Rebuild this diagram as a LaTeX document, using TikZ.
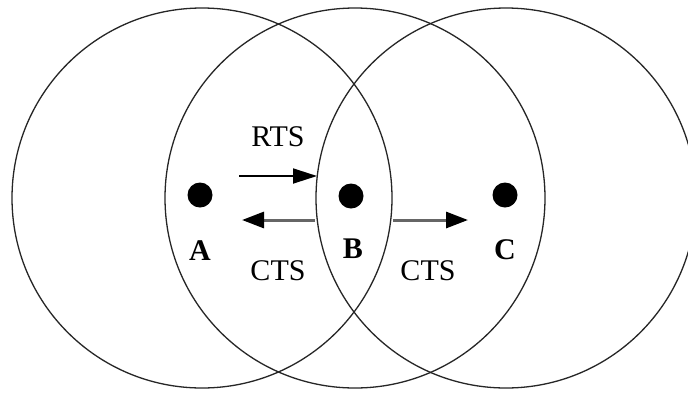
\documentclass[tikz,border=0pt]{standalone}
\usepackage{fontspec}
\setmainfont{Liberation Serif}
\usetikzlibrary{arrows.meta}
\begin{document}
\begin{tikzpicture}[x=1pt,y=-1pt,
  rangecircle/.style={draw=black!85,line width=1.3pt},
  station/.style={circle,fill=black,inner sep=0pt,minimum size=25pt},
  stlabel/.style={font=\fontsize{30}{32}\selectfont\bfseries,inner sep=0pt},
  msglabel/.style={font=\fontsize{30}{32}\selectfont,inner sep=0pt},
  rtsarrow/.style={draw=black,line width=1.8pt,-{Triangle[length=24pt,width=15pt]}},
  ctsarrow/.style={draw=black!60,line width=3pt,-{Triangle[length=22pt,width=16pt,color=black]}}]
\useasboundingbox (0,0) rectangle (688,392);
\fill[white] (0,0) rectangle (688,392);
% range circles
\draw[rangecircle] (202,198) circle[radius=190];
\draw[rangecircle] (355,198) circle[radius=190];
\draw[rangecircle] (506,198) circle[radius=190];
% stations
\node[station] (A) at (200,195) {};
\node[station] (B) at (351,196) {};
\node[station] (C) at (505,195) {};
\node[stlabel] (lA) at (200,251) {A};
\node[stlabel] (lB) at (353,249) {B};
\node[stlabel] (lC) at (505,250) {C};
% messages
\node[msglabel] (rts) at (278,137) {RTS};
\node[msglabel] (cts1) at (278,271) {CTS};
\node[msglabel] (cts2) at (428,271) {CTS};
\coordinate (r1) at (239,176);
\coordinate (r2) at (317,176);
\coordinate (c1s) at (315,220);
\coordinate (c1e) at (242,220);
\coordinate (c2s) at (393,220);
\coordinate (c2e) at (468,220);
\draw[rtsarrow] (r1) -- (r2);
\draw[ctsarrow] (c1s) -- (c1e);
\draw[ctsarrow] (c2s) -- (c2e);
\end{tikzpicture}
\end{document}
